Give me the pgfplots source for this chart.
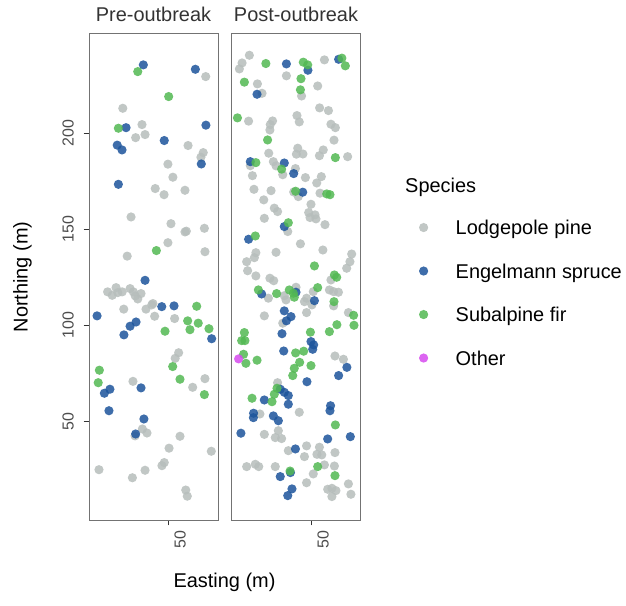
\documentclass[border=0pt]{standalone}
\usepackage{fontspec}
\setmainfont{Liberation Sans}
\usepackage{pgfplots}
\pgfplotsset{compat=1.18}

\definecolor{pine}{RGB}{182,189,187}
\definecolor{spruce}{RGB}{28,84,155}
\definecolor{fir}{RGB}{82,184,82}
\definecolor{otherspp}{RGB}{214,74,238}

\pgfplotsset{
  panel/.style={
    scale only axis, width=129bp, height=487bp, anchor=south west,
    ymin=-1.4, ymax=252.2,
    axis line style={draw=black!55, line width=0.9bp},
    tick align=outside, major tick length=5.5bp,
    major tick style={draw=black!80, line width=1.1bp},
    xtick={50}, xticklabels={50}, xtick pos=bottom, ytick pos=left,
    ticklabel style={font=\fontsize{16}{19}\selectfont, text=black!70},
    xticklabel style={xshift=6bp, yshift=-5bp, rotate=90, anchor=north east, inner sep=0pt},
    yticklabel style={xshift=-10bp, rotate=90, anchor=base, inner sep=0pt},
  },
  dot/.style={only marks, mark=*, mark size=4.6bp,
    mark options={draw=#1, draw opacity=0, fill=#1, fill opacity=0.85},
    legend image code/.code={\draw[##1] plot coordinates {(0bp,0bp)};}},
}

\begin{document}
\begin{tikzpicture}
\path[use as bounding box] (0,0) rectangle (626bp,606bp);

% Pre-outbreak stand map
\begin{axis}[panel, at={(89bp,86bp)}, xmin=8.7, xmax=75.9,
  ytick={50,100,150,200}, yticklabels={50,100,150,200}]
\addplot[dot=pine] coordinates {
(69.5,229.5) (26.3,213.0) (36.3,204.5) (33.0,197.7) (37.9,199.3) (60.3,193.6)
(68.2,189.9) (67.0,187.5) (49.8,183.9) (52.4,177.1) (43.2,171.2) (47.8,168.0)
(58.7,170.3) (30.6,156.4) (51.4,152.9) (58.7,148.6) (59.4,149.0) (68.8,150.5)
(49.8,143.0) (69.1,138.3) (28.6,136.0) (18.4,117.4) (20.8,115.6) (22.8,119.6)
(23.7,117.0) (26.0,117.4) (30.1,119.1) (31.8,117.4) (32.8,115.3) (34.1,113.7)
(35.8,116.5) (42.0,111.3) (41.4,110.6) (26.8,108.4) (38.4,108.4) (42.9,104.7)
(53.3,103.5) (55.4,85.7) (53.6,82.8) (69.1,72.2) (62.7,67.7) (31.6,70.8)
(32.7,42.4) (36.5,46.0) (38.9,43.9) (56.1,42.2) (50.4,36.0) (72.4,34.4)
(13.9,24.8) (31.3,20.6) (37.9,24.5) (47.9,28.5) (46.7,26.9) (59.1,14.2)
(59.9,11.0)
};
\addplot[dot=spruce] coordinates {
(37.0,235.6) (64.1,233.3) (28.0,202.9) (69.6,204.2) (47.9,196.2) (23.4,193.8)
(25.9,191.3) (67.2,184.0) (24.0,173.4) (37.9,123.4) (46.6,109.7) (53.0,110.1)
(12.9,104.9) (33.2,101.7) (30.1,99.5) (26.9,95.0) (72.6,93.0) (35.8,67.4)
(19.6,66.7) (16.7,64.6) (19.1,55.5) (37.3,51.2) (33.0,43.4)
};
\addplot[dot=fir] coordinates {
(34.1,232.1) (50.2,219.1) (24.0,202.6) (43.8,138.9) (64.8,109.9) (60.1,102.3)
(65.6,101.1) (61.3,97.7) (71.2,98.2) (48.3,96.9) (52.3,78.5) (14.1,76.6)
(13.5,70.1) (56.1,71.9) (68.8,63.9)
};
\end{axis}

% Post-outbreak stand map
\begin{axis}[panel, at={(231.5bp,86bp)}, xmin=8.4, xmax=75.6,
  ytick=\empty,
  legend style={at={(axis description cs:1.4535,0.619)}, anchor=north west,
    draw=none, fill=none, inner sep=0pt, outer sep=0pt,
    row sep=25.5bp, column sep=27.5bp,
    font=\fontsize{20}{24}\selectfont,
    nodes={inner sep=0pt, text height=16bp, text depth=2bp}},
  legend cell align=left]
\addplot[dot=pine] coordinates {
(17.7,240.6) (13.9,236.6) (12.5,233.5) (56.8,238.2) (37.0,229.9) (21.9,225.7)
(24.3,220.8) (53.3,224.6) (44.9,219.4) (54.3,213.2) (58.9,211.8) (17.3,206.3)
(29.8,206.4) (28.6,204.5) (28.4,201.7) (42.5,209.2) (43.7,205.9) (60.2,204.7)
(62.5,202.9) (61.8,196.4) (42.9,192.2) (42.2,189.1) (45.6,189.2) (56.2,191.3)
(54.2,188.3) (68.9,187.8) (27.8,189.6) (18.2,183.1) (30.2,185.2) (31.6,183.0)
(41.7,181.6) (35.1,178.4) (19.3,177.9) (46.9,176.9) (55.2,177.4) (52.8,174.1)
(20.1,170.8) (29.0,170.1) (40.8,169.4) (54.5,168.8) (25.2,165.3) (43.2,167.0)
(30.7,161.0) (32.4,159.2) (49.8,163.0) (48.6,158.7) (49.3,156.1) (52.4,155.4)
(51.9,157.5) (57.1,152.4) (25.5,155.7) (37.7,148.8) (44.3,142.4) (56.0,139.2)
(31.6,138.0) (21.1,137.8) (20.3,135.2) (16.3,133.1) (71.0,137.1) (70.1,133.1)
(68.4,129.7) (16.8,128.4) (21.1,125.7) (28.4,124.5) (30.4,123.2) (60.2,123.6)
(59.4,118.4) (61.6,117.5) (64.1,117.2) (51.0,117.5) (27.6,114.1) (35.9,115.4)
(36.8,113.2) (42.0,119.8) (47.5,114.1) (46.4,112.3) (50.3,110.6) (61.6,110.1)
(25.5,104.9) (35.1,101.1) (47.5,106.6) (69.3,106.6) (62.3,84.0) (66.7,82.3)
(32.4,70.1) (43.7,54.7) (23.2,53.8) (25.5,43.2) (32.8,45.1) (31.2,41.5)
(34.5,41.0) (47.5,37.2) (38.0,34.7) (54.2,36.5) (52.9,32.8) (55.4,32.5)
(62.3,33.7) (46.4,31.6) (56.8,27.3) (62.0,26.7) (16.3,26.4) (20.8,27.6)
(22.6,26.4) (31.2,26.4) (51.0,22.6) (47.5,18.0) (69.3,17.4) (58.5,14.6)
(60.7,15.1) (62.8,13.9) (60.7,10.8) (70.6,12.0)
};
\addlegendentry{Lodgepole pine}
\addplot[dot=spruce] coordinates {
(37.0,236.1) (48.2,232.8) (64.2,238.5) (21.7,220.3) (18.2,185.2) (35.9,184.5)
(40.8,179.0) (45.5,169.3) (35.9,151.4) (17.3,144.8) (24.1,116.3) (42.0,117.2)
(51.6,112.8) (35.9,107.5) (39.4,104.5) (37.0,102.3) (34.7,95.6) (49.8,91.5)
(51.2,89.8) (50.7,87.5) (35.6,86.6) (68.5,78.1) (64.2,73.8) (47.7,70.6)
(33.8,66.7) (35.9,65.1) (38.0,63.4) (25.5,61.1) (38.0,58.9) (60.0,58.1)
(59.7,55.5) (19.9,54.2) (19.8,51.9) (30.2,52.8) (32.8,50.3) (13.3,43.8)
(58.5,40.8) (70.3,42.0) (41.7,35.6) (39.1,23.3) (33.8,21.2) (39.9,14.8)
(37.7,11.3)
};
\addlegendentry{Engelmann spruce}
\addplot[dot=fir] coordinates {
(26.3,236.3) (45.8,237.0) (48.1,235.6) (65.9,239.1) (67.7,235.1) (44.6,228.4)
(15.1,226.6) (44.3,222.6) (11.5,208.0) (27.2,196.5) (62.5,187.3) (21.1,184.7)
(34.5,181.3) (41.8,169.8) (58.0,168.4) (59.7,168.0) (38.0,153.4) (20.8,146.5)
(51.6,130.9) (62.0,126.2) (63.2,125.0) (53.3,119.6) (22.4,118.4) (31.9,116.5)
(38.5,118.4) (40.6,116.7) (41.1,114.6) (61.8,112.3) (72.0,105.2) (72.2,100.0)
(63.3,100.3) (59.4,96.7) (49.5,96.4) (15.1,96.2) (13.7,92.0) (15.4,92.0)
(46.0,86.5) (41.8,85.6) (14.7,84.9) (21.7,81.8) (15.9,80.2) (43.9,80.7)
(49.8,79.0) (41.1,77.6) (40.3,73.8) (32.1,67.2) (30.7,64.1) (19.1,62.0)
(29.5,60.2) (62.5,48.1) (53.3,26.4) (38.9,24.1) (62.3,21.7)
};
\addlegendentry{Subalpine fir}
\addplot[dot=otherspp] coordinates {(12.1,82.5)};
\addlegendentry{Other}
\end{axis}

% facet strips, axis titles and legend title
\node[anchor=base, text=black!80, font=\fontsize{20}{24}\selectfont] at (153.5bp,584.5bp) {Pre-outbreak};
\node[anchor=base, text=black!80, font=\fontsize{20}{24}\selectfont] at (296bp,584.5bp) {Post-outbreak};
\node[anchor=base, font=\fontsize{20}{24}\selectfont] at (224.5bp,19bp) {Easting (m)};
\node[anchor=base, rotate=90, font=\fontsize{20}{24}\selectfont] at (27.6bp,329bp) {Northing (m)};
\node[anchor=base west, font=\fontsize{20}{24}\selectfont] at (401.7bp,413bp) {Species};
\end{tikzpicture}
\end{document}
